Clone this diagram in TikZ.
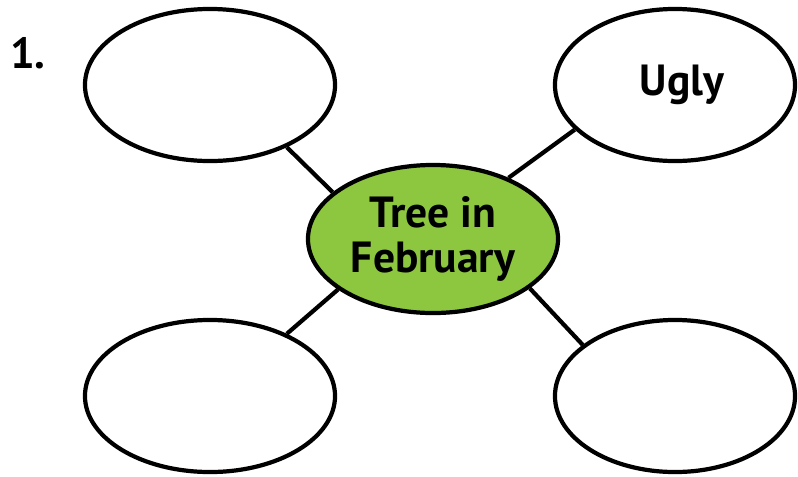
\documentclass[tikz,border=0pt]{standalone}
\usepackage{fontspec}
\setmainfont{PT Sans}
\usetikzlibrary{shapes.geometric}
\definecolor{leaf}{HTML}{8DC63F}

\begin{document}
\begin{tikzpicture}[x=0.025cm,y=-0.025cm,line width=3pt,
  bubble/.style={ellipse,draw,fill=white,inner sep=0pt,minimum width=6.25cm,minimum height=3.8cm,
    font=\bfseries\fontsize{31}{32}\selectfont},
  hub/.style={bubble,fill=leaf,minimum height=3.7cm,align=center}]
  \useasboundingbox (0,0) rectangle (798,476);
  \node[font=\bfseries\fontsize{31}{32}\selectfont] (num) at (28,53) {1.};
  % four outer ellipses round the green one
  \node[bubble] (tl) at (210,85) {};
  \node[bubble,minimum width=6.0cm] (tr) at (675,85) {\hspace*{0.35cm}Ugly};
  \node[bubble] (bl) at (210,396) {};
  \node[bubble,minimum width=6.0cm] (br) at (675,396) {};
  \node[hub] (hub) at (433,239) {Tree in\\February};
  \draw (tl.-39) -- (hub.155);
  \draw (tr.-156) -- (hub.39);
  \draw (bl.39) -- (hub.-152);
  \draw (br.151) -- (hub.-27);
\end{tikzpicture}
\end{document}
